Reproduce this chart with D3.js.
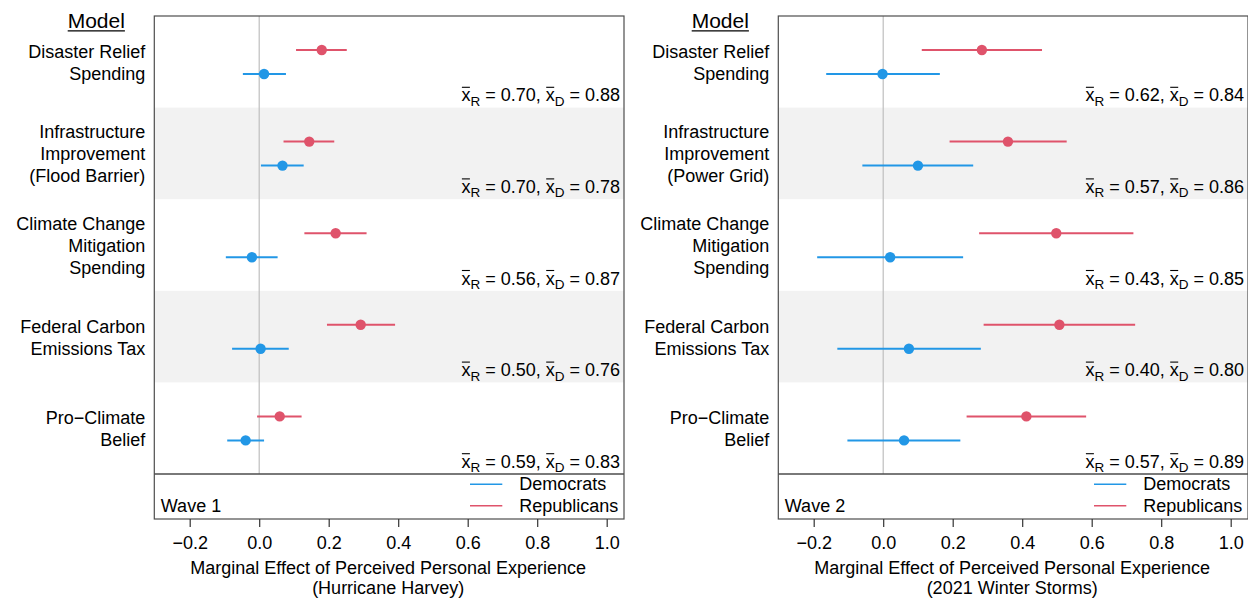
<!DOCTYPE html>
<html><head><meta charset="utf-8">
<script src="https://cdn.jsdelivr.net/npm/d3@7"></script>
<style>body{margin:0;background:#fff}svg{display:block}text{font-family:"Liberation Sans",Arial,Helvetica,sans-serif;fill:#000}</style>
</head><body>
<svg id="chart" width="1248" height="599"></svg>
<script>
// ---------- data ----------
const models1 = [["Disaster Relief","Spending"],["Infrastructure","Improvement","(Flood Barrier)"],["Climate Change","Mitigation","Spending"],["Federal Carbon","Emissions Tax"],["Pro\u2212Climate","Belief"]];
const models2 = [["Disaster Relief","Spending"],["Infrastructure","Improvement","(Power Grid)"],["Climate Change","Mitigation","Spending"],["Federal Carbon","Emissions Tax"],["Pro\u2212Climate","Belief"]];

const w1RepEst = [0.180, 0.144, 0.220, 0.292, 0.059];
const w1RepLo  = [0.106, 0.070, 0.130, 0.195, -0.006];
const w1RepHi  = [0.252, 0.216, 0.309, 0.391, 0.122];
const w1DemEst = [0.014, 0.067, -0.021, 0.004, -0.039];
const w1DemLo  = [-0.047, 0.005, -0.096, -0.078, -0.092];
const w1DemHi  = [0.077, 0.128, 0.053, 0.085, 0.014];
const w1MeanR  = ["0.70","0.70","0.56","0.50","0.59"];
const w1MeanD  = ["0.88","0.78","0.87","0.76","0.83"];

const w2RepEst = [0.284, 0.359, 0.498, 0.507, 0.412];
const w2RepLo  = [0.111, 0.191, 0.276, 0.289, 0.240];
const w2RepHi  = [0.457, 0.528, 0.720, 0.725, 0.584];
const w2DemEst = [-0.002, 0.100, 0.020, 0.074, 0.060];
const w2DemLo  = [-0.164, -0.060, -0.190, -0.132, -0.103];
const w2DemHi  = [0.163, 0.259, 0.230, 0.281, 0.222];
const w2MeanR  = ["0.62","0.57","0.43","0.40","0.57"];
const w2MeanD  = ["0.84","0.86","0.85","0.80","0.89"];

const xTicks = [-0.2, 0.0, 0.2, 0.4, 0.6, 0.8, 1.0];
const legendLabels = ["Democrats","Republicans"];
const waveLabels = ["Wave 1","Wave 2"];
const axisTitles = [["Marginal Effect of Perceived Personal Experience","(Hurricane Harvey)"],["Marginal Effect of Perceived Personal Experience","(2021 Winter Storms)"]];

// ---------- style ----------
const RED = "#DF536B", BLUE = "#2297E6";
const FS = 18;
const svg = d3.select("#chart");

function panel(off, models, rep, dem, meansR, meansD, wave, title) {
  const bx0 = 154.3 + off, bx1 = 624 + off, top = 16, sep = 474, bot = 519;
  const x = d3.scaleLinear().domain([-0.2, 1.0]).range([189.7 + off, 606.7 + off]);
  const ids = models.map((d, i) => i);
  const y = d3.scaleBand().domain(ids).range([top, sep]).padding(0);
  const g = svg.append("g");

  // bands
  g.selectAll("rect.band").data(ids.filter(i => i % 2 === 1)).join("rect")
    .attr("x", bx0).attr("y", i => y(i)).attr("width", bx1 - bx0).attr("height", y.bandwidth())
    .attr("fill", "#F2F2F2");

  // zero line
  g.append("line").attr("x1", x(0)).attr("x2", x(0)).attr("y1", top).attr("y2", sep)
    .attr("stroke", "#BEBEBE").attr("stroke-width", 1.2);

  // series
  const series = [
    {est: rep[0], lo: rep[1], hi: rep[2], col: RED, dy: 34},
    {est: dem[0], lo: dem[1], hi: dem[2], col: BLUE, dy: 58}
  ];
  series.forEach(s => {
    g.selectAll(null).data(ids).join("line")
      .attr("x1", i => x(s.lo[i])).attr("x2", i => x(s.hi[i]))
      .attr("y1", i => y(i) + s.dy).attr("y2", i => y(i) + s.dy)
      .attr("stroke", s.col).attr("stroke-width", 2);
    g.selectAll(null).data(ids).join("circle")
      .attr("cx", i => x(s.est[i])).attr("cy", i => y(i) + s.dy).attr("r", 5.2)
      .attr("fill", s.col);
  });

  // means text
  ids.forEach(i => {
    const base = y(i) + y.bandwidth() - 6.3;
    const t = g.append("text").attr("x", bx1 - 4).attr("y", base)
      .attr("text-anchor", "end").attr("font-size", FS);
    t.append("tspan").text("x");
    t.append("tspan").attr("font-size", 13.5).attr("dy", 4.5).text("R");
    t.append("tspan").attr("dy", -4.5).text(" = " + meansR[i] + ", ");
    t.append("tspan").text("x");
    t.append("tspan").attr("font-size", 13.5).attr("dy", 4.5).text("D");
    t.append("tspan").attr("dy", -4.5).text(" = " + meansD[i]);
    const node = t.node();
    const full = "xR = " + meansR[i] + ", xD = " + meansD[i];
    [0, full.indexOf(", x") + 2].forEach(ci => {
      const ext = node.getExtentOfChar(ci);
      g.append("line").attr("x1", ext.x + 0.5).attr("x2", ext.x + ext.width - 0.5)
        .attr("y1", base - 14).attr("y2", base - 14)
        .attr("stroke", "#000").attr("stroke-width", 1.1);
    });
  });

  // model labels
  ids.forEach(i => {
    const lines = models[i];
    const cy = y(i) + y.bandwidth() / 2 + 1;
    lines.forEach((ln, k) => {
      g.append("text").attr("x", bx0 - 9).attr("y", cy + (k - (lines.length - 1) / 2) * 22)
        .attr("dominant-baseline", "central").attr("text-anchor", "end").attr("font-size", FS).text(ln);
    });
  });
  // "Model" header
  const mh = g.append("text").attr("x", bx0 - 58).attr("y", 28).attr("text-anchor", "middle")
    .attr("font-size", 21).text("Model");
  const mb = mh.node().getBBox();
  g.append("line").attr("x1", mb.x).attr("x2", mb.x + mb.width).attr("y1", 30.8).attr("y2", 30.8)
    .attr("stroke", "#000").attr("stroke-width", 1.2);

  // legend
  legendLabels.forEach((lab, k) => {
    const ly = k === 0 ? 484.3 : 505.7;
    g.append("line").attr("x1", 470 + off).attr("x2", 502.3 + off).attr("y1", ly).attr("y2", ly)
      .attr("stroke", k === 0 ? BLUE : RED).attr("stroke-width", 1.5);
    g.append("text").attr("x", 519.3 + off).attr("y", ly).attr("dominant-baseline", "central")
      .attr("font-size", FS).text(lab);
  });
  g.append("text").attr("x", bx0 + 6.5).attr("y", 506).attr("dominant-baseline", "central")
    .attr("font-size", FS).text(wave);

  // box + separator
  g.append("rect").attr("x", bx0).attr("y", top).attr("width", bx1 - bx0).attr("height", bot - top)
    .attr("fill", "none").attr("stroke", "#4D4D4D").attr("stroke-width", 1.2);
  g.append("line").attr("x1", bx0).attr("x2", bx1).attr("y1", sep).attr("y2", sep)
    .attr("stroke", "#4D4D4D").attr("stroke-width", 1.5);

  // axis
  const ax = g.append("g").attr("transform", `translate(0,${bot})`)
    .call(d3.axisBottom(x).tickValues(xTicks).tickSize(8).tickPadding(8)
      .tickFormat(d => d3.format(".1f")(d).replace("-", "\u2212")));
  ax.select(".domain").remove();
  ax.selectAll(".tick line").attr("stroke", "#333").attr("stroke-width", 1.2);
  ax.selectAll(".tick text").attr("font-size", FS).attr("fill", "#000")
    .attr("font-family", '"Liberation Sans",Arial,sans-serif').attr("dy", null)
    .attr("y", 24).attr("dominant-baseline", "central");

  title.forEach((ln, k) => {
    g.append("text").attr("x", (bx0 + bx1) / 2 - 1).attr("y", 568 + k * 20)
      .attr("dominant-baseline", "central").attr("text-anchor", "middle").attr("font-size", FS).text(ln);
  });
}

panel(0, models1, [w1RepEst, w1RepLo, w1RepHi], [w1DemEst, w1DemLo, w1DemHi], w1MeanR, w1MeanD, waveLabels[0], axisTitles[0]);
panel(624, models2, [w2RepEst, w2RepLo, w2RepHi], [w2DemEst, w2DemLo, w2DemHi], w2MeanR, w2MeanD, waveLabels[1], axisTitles[1]);
</script>
</body></html>
